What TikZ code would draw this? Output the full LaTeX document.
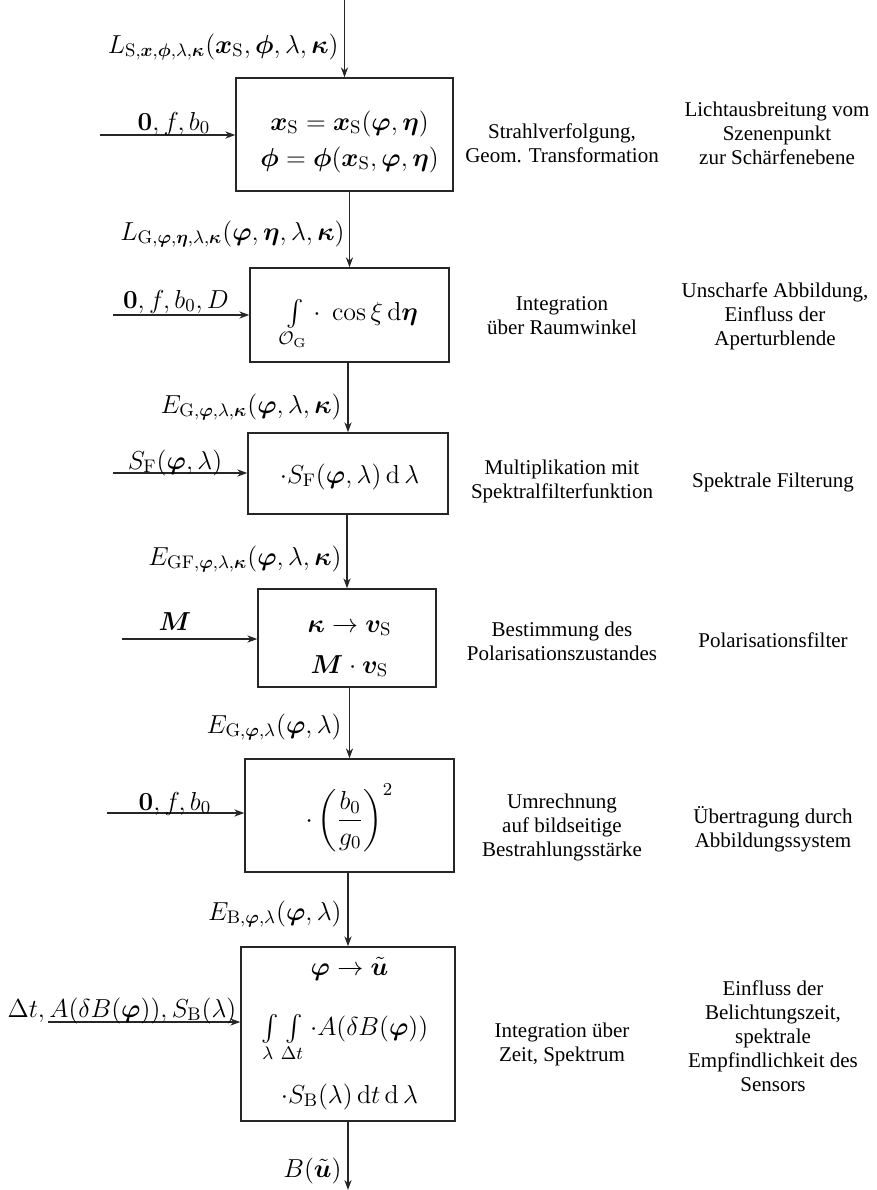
\RequirePackage{fix-cm}
\documentclass[tikz,border=0pt]{standalone}
\usepackage{amsmath,amssymb}
\usepackage{bm}
\usepackage[no-math]{fontspec}
\setmainfont{Liberation Serif}
\usetikzlibrary{arrows.meta}
\tikzset{
  box/.style={draw=black!85, line width=0.7pt, rectangle, inner sep=0pt},
  arr/.style={draw=black!85, line width=0.7pt, -{Stealth[length=5pt,width=3.6pt]}},
  lab/.style={inner sep=0pt, font=\fontsize{13}{15}\selectfont},
  desc/.style={align=center, inner sep=0pt, font=\fontsize{10.5}{12}\selectfont},
}
\begin{document}
\begin{tikzpicture}[x=0.5pt,y=-0.5pt]
\useasboundingbox (0,0) rectangle (877,1190);
% boxes
\node[box, minimum width=108.5pt, minimum height=56.5pt] (B1) at (344.5,134.5) {};
\node[box, minimum width=99.5pt, minimum height=47pt] (B2) at (349.5,315) {};
\node[box, minimum width=100pt, minimum height=40.5pt] (B3) at (348,473.5) {};
\node[box, minimum width=89pt, minimum height=49pt] (B4) at (347,638) {};
\node[box, minimum width=104.5pt, minimum height=56.5pt] (B5) at (349.5,815.5) {};
\node[box, minimum width=107pt, minimum height=87pt] (B6) at (348,1034) {};
% box contents
\node[lab, anchor=base] (c1a) at (349.5,130) {$\bm{x}_\mathrm{S} = \bm{x}_\mathrm{S}(\bm{\varphi},\bm{\eta})$};
\node[lab, anchor=base] (c1b) at (349.5,166) {$\bm{\phi} = \bm{\phi}(\bm{x}_\mathrm{S},\bm{\varphi},\bm{\eta})$};
\node[lab, anchor=base] (c2) at (349.5,320) {$\int\limits_{\mathcal{O}_\mathrm{G}} \cdot\; \cos\xi\,\mathrm{d}\bm{\eta}$};
\node[lab, anchor=base] (c3) at (349.5,483) {$\cdot S_\mathrm{F}(\bm{\varphi},\lambda)\,\mathrm{d}\,\lambda$};
\node[lab, anchor=base] (c4a) at (349.5,632) {$\bm{\kappa}\to\bm{v}_\mathrm{S}$};
\node[lab, anchor=base] (c4b) at (349.5,673) {$\bm{M}\cdot\bm{v}_\mathrm{S}$};
\node[lab] (c5) at (349.5,818) {$\cdot\left(\dfrac{b_0}{g_0}\right)^2$};
\node[lab, anchor=base] (c6a) at (349.5,975) {$\bm{\varphi}\to\tilde{\bm{u}}$};
\node[lab, anchor=base] (c6b) at (345,1035) {$\int\limits_\lambda\int\limits_{\Delta t}\cdot A(\delta B(\bm{\varphi}))$};
\node[lab, anchor=base] (c6c) at (349.5,1103) {$\cdot S_\mathrm{B}(\lambda)\,\mathrm{d}t\,\mathrm{d}\,\lambda$};
% vertical flow
\coordinate (top) at (344.5,0);
\coordinate (bot) at (348,1190);
\draw[arr] (top) -- (B1.north);
\draw[arr] (B1.south -| B2.north) -- (B2.north);
\draw[arr] (B2.south -| B3.north) -- (B3.north);
\draw[arr] (B3.south -| B4.north) -- (B4.north);
\draw[arr] (B4.south -| B5.north) -- (B5.north);
\draw[arr] (B5.south -| B6.north) -- (B6.north);
\draw[arr] (B6.south) -- (bot);
% vertical labels
\node[lab, anchor=base east] (v0) at (339,53) {$L_{\mathrm{S},\bm{x},\bm{\phi},\lambda,\bm{\kappa}}(\bm{x}_\mathrm{S},\bm{\phi},\lambda,\bm{\kappa})$};
\node[lab, anchor=base east] (v1) at (345,240) {$L_{\mathrm{G},\bm{\varphi},\bm{\eta},\lambda,\bm{\kappa}}(\bm{\varphi},\bm{\eta},\lambda,\bm{\kappa})$};
\node[lab, anchor=base east] (v2) at (342,413) {$E_{\mathrm{G},\bm{\varphi},\lambda,\bm{\kappa}}(\bm{\varphi},\lambda,\bm{\kappa})$};
\node[lab, anchor=base east] (v3) at (342,565) {$E_{\mathrm{GF},\bm{\varphi},\lambda,\bm{\kappa}}(\bm{\varphi},\lambda,\bm{\kappa})$};
\node[lab, anchor=base east] (v4) at (342,733) {$E_{\mathrm{G},\bm{\varphi},\lambda}(\bm{\varphi},\lambda)$};
\node[lab, anchor=base east] (v5) at (342,920) {$E_{\mathrm{B},\bm{\varphi},\lambda}(\bm{\varphi},\lambda)$};
\node[lab, anchor=base east] (v6) at (342,1177) {$B(\tilde{\bm{u}})$};
% inputs
\coordinate (s1) at (100,135);
\coordinate (s2) at (113,315);
\coordinate (s3) at (113,473);
\coordinate (s4) at (122,639);
\coordinate (s5) at (107,813);
\coordinate (s6) at (48,1022);
\draw[arr] (s1) -- (s1 -| B1.west);
\draw[arr] (s2) -- (s2 -| B2.west);
\draw[arr] (s3) -- (s3 -| B3.west);
\draw[arr] (s4) -- (s4 -| B4.west);
\draw[arr] (s5) -- (s5 -| B5.west);
\draw[arr] (s6) -- (s6 -| B6.west);
\node[lab, anchor=base] (i1) at (174,130) {$\mathbf{0}, f, b_0$};
\node[lab, anchor=base] (i2) at (176,308) {$\mathbf{0}, f, b_0, D$};
\node[lab, anchor=base] (i3) at (175,469) {$S_\mathrm{F}(\bm{\varphi},\lambda)$};
\node[lab, anchor=base] (i4) at (175,630) {$\bm{M}$};
\node[lab, anchor=base] (i5) at (175,810) {$\mathbf{0}, f, b_0$};
\node[lab, anchor=base] (i6) at (122,1017) {$\Delta t, A(\delta B(\bm{\varphi})), S_\mathrm{B}(\lambda)$};
% descriptions
\node[desc] (m1) at (562,143) {Strahlverfolgung,\\Geom. Transformation};
\node[desc] (m2) at (562,316) {Integration\\über Raumwinkel};
\node[desc] (m3) at (562,481) {Multiplikation mit\\Spektralfilterfunktion};
\node[desc] (m4) at (562,641) {Bestimmung des\\Polarisationszustandes};
\node[desc] (m5) at (562,827) {Umrechnung\\auf bildseitige\\Bestrahlungsstärke};
\node[desc] (m6) at (562,1044) {Integration über\\Zeit, Spektrum};
\node[desc] (r1) at (777,133) {Lichtausbreitung vom\\Szenenpunkt\\zur Schärfenebene};
\node[desc] (r2) at (775,316) {Unscharfe Abbildung,\\Einfluss der\\Aperturblende};
\node[desc] (r3) at (773,482) {Spektrale Filterung};
\node[desc] (r4) at (773,640) {Polarisationsfilter};
\node[desc] (r5) at (773,829) {Übertragung durch\\Abbildungssystem};
\node[desc] (r6) at (773,1036) {Einfluss der\\Belichtungszeit,\\spektrale\\Empfindlichkeit des\\Sensors};
\end{tikzpicture}
\end{document}
